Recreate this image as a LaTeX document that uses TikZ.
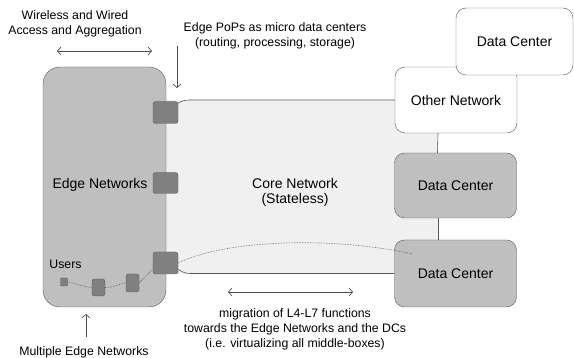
\documentclass[tikz,border=0pt]{standalone}
\usepackage{fontspec}
\setmainfont{Liberation Sans}
\usetikzlibrary{arrows.meta}

\begin{document}
\begin{tikzpicture}[x=1pt,y=-1pt,
    font=\fontsize{12.3}{15}\selectfont,
    net/.style={draw=black!65,fill=black!25,rectangle,rounded corners=10pt,align=center,inner sep=0pt,font=\fontsize{14}{15}\selectfont},
    cloud/.style={draw=black!65,fill=white,rectangle,rounded corners=10pt,align=center,inner sep=0pt,font=\fontsize{14}{15}\selectfont},
    pop/.style={draw=black!65,fill=black!50,rectangle,rounded corners=2.5pt,inner sep=0pt},
    note/.style={align=center,inner sep=0pt},
    link/.style={draw=black!65,line width=0.6pt},
    hint/.style={draw=black!70,line width=0.7pt,>={Straight Barb[length=3.5pt,width=8pt]}}]
\useasboundingbox (0,0) rectangle (574,358);

% core network area
\fill[black!6] (166,100) rectangle (438,274);
\node[note,font=\fontsize{14}{15}\selectfont] (corelbl) at (295,192) {Core Network\\(Stateless)};

% edge networks
\node[net,minimum width=123pt,minimum height=240pt,rounded corners=17pt] (edge) at (104.5,187) {};
\node[note,font=\fontsize{14}{15}\selectfont] (edgelbl) at (100,185) {Edge Networks};
\node[pop,minimum width=25pt,minimum height=22pt] (pop1) at (165.5,112.5) {};
\node[pop,minimum width=25pt,minimum height=21pt] (pop2) at (165.5,183) {};
\node[pop,minimum width=25pt,minimum height=22pt] (pop3) at (165.5,263) {};
\node[note] (users) at (65.5,264) {Users};
\node[pop,minimum width=7pt,minimum height=8pt,rounded corners=1pt] (u1) at (64,282) {};
\node[pop,minimum width=13pt,minimum height=17pt] (u2) at (98.5,287.5) {};
\node[pop,minimum width=13pt,minimum height=18pt] (u3) at (132.5,283) {};

% other networks and data centers
\node[cloud,minimum width=122pt,minimum height=66pt] (other) at (456,100) {Other Network};
\node[cloud,minimum width=117pt,minimum height=67pt] (dct) at (514.5,41.5) {Data Center};
\node[net,minimum width=122pt,minimum height=65pt] (dcm) at (455.5,185.5) {Data Center};
\node[net,minimum width=122pt,minimum height=67pt] (dcb) at (455.5,273.5) {Data Center};

\draw[link] ([yshift=-2pt]pop1.north east) to[out=35,in=180] ([xshift=12pt]pop1.north east |- other.west) -- (other.west);
\draw[link] ([yshift=5pt]pop3.south east) to[out=-35,in=180] ([xshift=12pt]pop3.south east |- dcb.west) -- (dcb.west);
\draw[link] ([xshift=-18pt]other.south) -- ([xshift=-18pt]dcm.north);
\draw[link] ([xshift=-17.5pt]dcm.south) -- ([xshift=-17.5pt]dcb.north);

% paths through the network
\coordinate (mig) at (413,254);
\draw[link,densely dotted] (pop3.east) .. controls (225,240) and (330,236) .. (mig);
\draw[link,densely dotted] (u1.east) to[out=-10,in=175] (u2.west);
\draw[link,densely dotted] (u2.east) to[out=0,in=190] (u3.west);
\draw[link,densely dotted] (u3.east) -- ([yshift=-6pt]pop3.west);

% annotations
\node[note] (access) at (75,24) {Wireless and Wired\\Access and Aggregation};
\coordinate (access-l) at (57,51);
\coordinate (access-r) at (152,51);
\draw[hint,<->] (access-l) -- (access-r);

\node[note] (popnote) at (275,36) {Edge PoPs as micro data centers\\(routing, processing, storage)};
\coordinate (popnote-s) at (177,46);
\coordinate (popnote-e) at (177,88);
\draw[hint,->] (popnote-s) -- (popnote-e);

\node[note] (migration) at (295,329) {migration of L4-L7 functions\\towards the Edge Networks and the DCs\\(i.e. virtualizing all middle-boxes)};
\coordinate (mig-l) at (228,292);
\coordinate (mig-r) at (353,292);
\draw[hint,<->] (mig-l) -- (mig-r);

\node[note] (multiple) at (84,352) {Multiple Edge Networks};
\coordinate (multiple-s) at (86,337);
\draw[hint,->] (multiple-s) -- (86,314);
\end{tikzpicture}
\end{document}
